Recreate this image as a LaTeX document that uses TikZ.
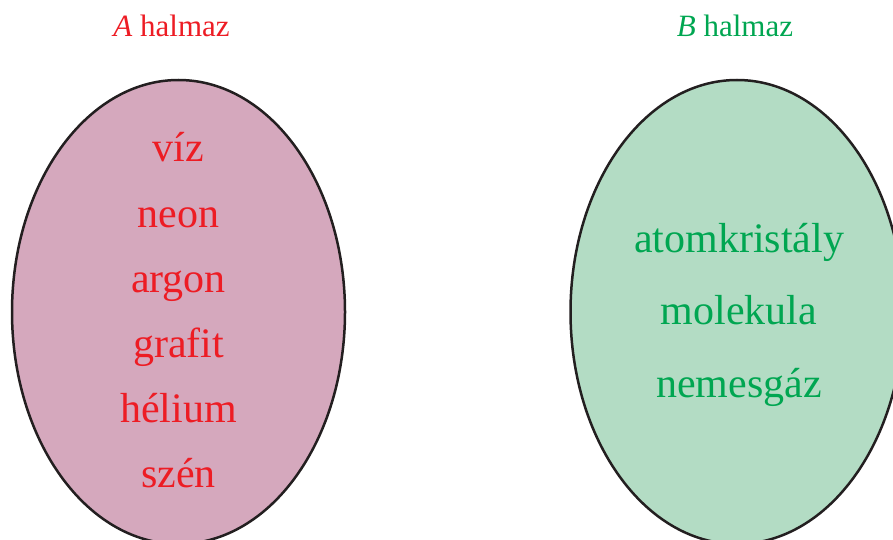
\documentclass[tikz,border=0pt]{standalone}
\usepackage{fontspec}
\setmainfont{Liberation Serif}
\usetikzlibrary{shapes.geometric}
\definecolor{aFill}{RGB}{213,168,189}
\definecolor{aText}{RGB}{237,28,36}
\definecolor{bFill}{RGB}{179,220,196}
\definecolor{bText}{RGB}{0,166,81}
\definecolor{rim}{RGB}{35,31,32}
\tikzset{
  set/.style   ={ellipse, draw=rim, line width=1.25pt, inner sep=0pt,
                 minimum width=166.5pt, minimum height=232pt},
  setA/.style  ={set, fill=aFill},
  setB/.style  ={set, fill=bFill},
  item/.style  ={anchor=base, inner sep=0pt, font=\fontsize{21}{25}\selectfont},
  title/.style ={anchor=base, inner sep=0pt, font=\fontsize{15.5}{18}\selectfont},
}
\begin{document}
\begin{tikzpicture}[x=0.5pt, y=-0.5pt]
  \useasboundingbox (0,0) rectangle (893,540);
  \clip (0,0) rectangle (893,540);
  % the two sets
  \node[setA] (setA) at (178.5,312) {};
  \node[setB] (setB) at (737,312) {};
  \node[title, text=aText] (titleA) at (171.5,37) {\textit{A} halmaz};
  \node[title, text=bText] (titleB) at (735,37) {\textit{B} halmaz};
  % elements of A
  \foreach \w [count=\i] in {víz, neon, argon, grafit, hélium, szén}
      \node[item, text=aText] (a\i) at (178.5,162+65*\i-65) {\w};
  % elements of B
  \foreach \w [count=\i] in {atomkristály, molekula, nemesgáz}
      \node[item, text=bText] (b\i) at (739,252+72.5*\i-72.5) {\w};
\end{tikzpicture}
\end{document}
